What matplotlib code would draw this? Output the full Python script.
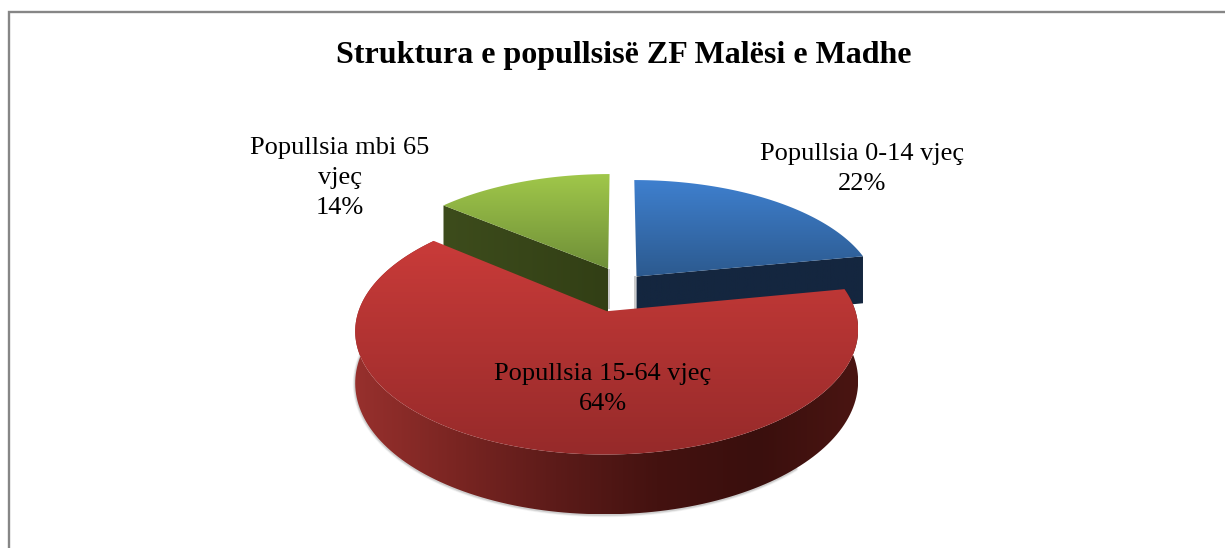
import numpy as np
import matplotlib
matplotlib.use("Agg")
import matplotlib.pyplot as plt
from matplotlib.colors import LinearSegmentedColormap
from matplotlib.patches import PathPatch
from matplotlib.path import Path

# Struktura e popullsise - pite 3D e ndare, e vizatuar me perspektive
title = "Struktura e popullsisë ZF Malësi e Madhe"
labels = ["Popullsia 0-14 vjeç", "Popullsia 15-64 vjeç", "Popullsia mbi 65\nvjeç"]
values = [22, 64, 14]

# zhvendosja e secilit sektor ne planin e pites
offsets = [(0.072, 0.10), (-0.05, -0.20), (-0.048, 0.172)]
top_colors = [("#3f80cf", "#2c5a8f"), ("#c93b39", "#962a2a"), ("#a0c74a", "#6f8f38")]
side_colors = [("#14263f", "#14263f"), ("#97302d", "#3a0f0d"), ("#3d4c1c", "#323f15")]
label_pos = [(862, 169), (603, 389), (340, 178)]

# parametrat e projeksionit (ne piksela)
X0, Y0 = 619.4, 287.7
A, B, P, DEPTH = 241, 114, 0.15, 49


def project(u, v, z=0.0):
    k = 1 + P * v
    return X0 + A * u / k, Y0 - B * v / k + DEPTH * z / k


def gradient_fill(ax, verts, colors, vertical=True):
    cmap = LinearSegmentedColormap.from_list("g", list(colors))
    verts = np.asarray(verts)
    x0, x1 = verts[:, 0].min(), verts[:, 0].max()
    y0, y1 = verts[:, 1].min(), verts[:, 1].max()
    grad = np.linspace(0, 1, 256).reshape(-1, 1) if vertical else np.linspace(0, 1, 256).reshape(1, -1)
    im = ax.imshow(grad, cmap=cmap, extent=(x0, x1, y1, y0), aspect="auto", origin="upper", zorder=ax.zcount)
    patch = PathPatch(Path(np.vstack([verts, verts[0]]), closed=True), transform=ax.transData,
                      fc="none", ec="none")
    ax.add_patch(patch)
    im.set_clip_path(patch)
    ax.zcount += 1


fig = plt.figure(figsize=(12.25, 5.48), dpi=100)
ax = fig.add_axes([0, 0, 1, 1])
ax.zcount = 2

# kendet nga vlerat, nga lart ne drejtim te akrepave
fractions = np.array(values) / np.sum(values)
edges = np.concatenate([[0], np.cumsum(fractions)]) * 2 * np.pi

slices = []
for i in range(len(values)):
    t = np.linspace(edges[i], edges[i + 1], 160)
    du, dv = offsets[i]
    slices.append((t, np.sin(t) + du, np.cos(t) + dv, du, dv))


def arc(u, v, z=0.0):
    return np.column_stack(project(u, v, z))


def draw_blue_green(i):
    t, u, v, du, dv = slices[i]
    # faqja e prere qe shihet perpara
    if i == 0:
        uc, vc = u[-1], v[-1]
    else:
        uc, vc = u[0], v[0]
    tip_top = project(du, dv)
    tip_bot = project(du, dv, 1)
    end_top = project(uc, vc)
    end_bot = project(uc, vc, 1)
    # hije e lehte te prerja vertikale
    x, y = tip_top[0], tip_top[1]
    sx = 2 if i == 2 else -2
    ax.fill([x, x + sx, x + sx, x], [y, y, y + 40, y + 40], color="#999999", alpha=0.5, lw=0, zorder=ax.zcount)
    ax.zcount += 1
    gradient_fill(ax, [tip_top, end_top, end_bot, tip_bot], side_colors[i], vertical=False)
    verts = np.vstack([[tip_top], arc(u, v)])
    gradient_fill(ax, verts, top_colors[i])


for i in (2, 0):
    draw_blue_green(i)

# sektori i kuq
t, u, v, du, dv = slices[1]
top_arc = arc(u, v)
bot_arc = arc(u, v, 1)
side = np.vstack([top_arc, bot_arc[::-1]])
# hija poshte anes
for w, a in zip((7, 5, 3), (0.08, 0.12, 0.2)):
    ax.plot(bot_arc[40:-25, 0], bot_arc[40:-25, 1] + 0.5, color="#777777", lw=w / 2, alpha=a,
            solid_capstyle="round", zorder=ax.zcount)
ax.zcount += 1
cmap_stops = ("#97302d", "#7a2522", "#5c1b19", "#441210", "#3a0f0d", "#4a1512")
gradient_fill(ax, side, cmap_stops, vertical=False)
gradient_fill(ax, np.vstack([[project(du, dv)], top_arc]), top_colors[1])

# tekstet
serif = ["Liberation Serif", "DejaVu Serif"]
ax.text(624, 55, title, ha="center", va="center", family=serif, fontsize=23, fontweight="bold",
        color="black", zorder=100)
for lab, val, pos in zip(labels, values, label_pos):
    ax.text(pos[0], pos[1], f"{lab}\n{val}%", ha="center", va="center", family=serif, fontsize=19,
            color="black", linespacing=1.48, zorder=100)

# korniza: vetem majtas dhe lart
ax.plot([9, 9, 1225], [548, 12, 12], color="#868686", lw=1.7, solid_joinstyle="miter", zorder=50)

ax.set_xlim(0, 1225)
ax.set_ylim(548, 0)
ax.axis("off")
fig.savefig("out.png", dpi=100, facecolor="white")
